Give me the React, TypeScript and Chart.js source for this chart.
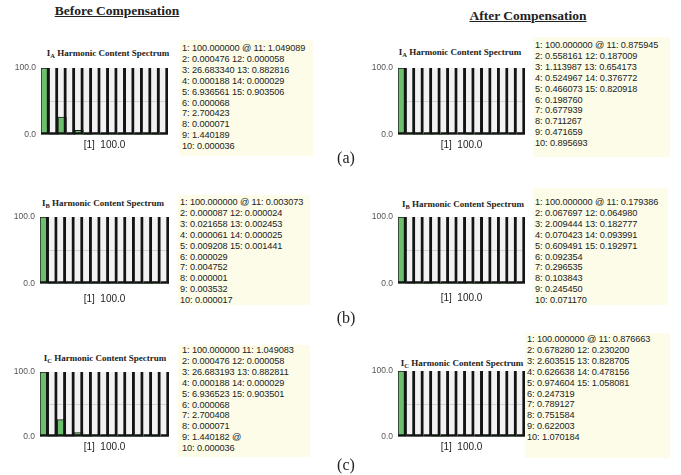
import React, { useEffect, useRef } from "react";
import { Chart, registerables } from "chart.js";

Chart.register(...registerables);
Chart.defaults.font.family = "'Liberation Sans', Arial, sans-serif";

// Harmonic orders on the x axis
const harmonicOrders = ["1", "2", "3", "4", "5", "6", "7", "8", "9", "10", "11", "12", "13", "14", "15"];

// Harmonic content (% of fundamental) per phase current
const iaBefore = [100, 0.000476, 26.68334, 0.000188, 6.936561, 0.000068, 2.700423, 0.000071, 1.440189, 0.000036, 1.049089, 0.000058, 0.882816, 0.000029, 0.903506];
const iaAfter = [100, 0.558161, 1.113987, 0.524967, 0.466073, 0.19876, 0.677939, 0.711267, 0.471659, 0.895693, 0.875945, 0.187009, 0.654173, 0.376772, 0.820918];
const ibBefore = [100, 0.000087, 0.021658, 0.000061, 0.009208, 0.000029, 0.004752, 0.000001, 0.003532, 0.000017, 0.003073, 0.000024, 0.002453, 0.000025, 0.001441];
const ibAfter = [100, 0.067697, 2.009444, 0.070423, 0.609491, 0.092354, 0.296535, 0.103843, 0.24545, 0.07117, 0.179386, 0.06498, 0.182777, 0.093991, 0.192971];
const icBefore = [100, 0.000476, 26.683193, 0.000188, 6.936523, 0.000068, 2.700408, 0.000071, 1.440182, 0.000036, 1.049083, 0.000058, 0.882811, 0.000029, 0.903501];
const icAfter = [100, 0.67828, 2.603515, 0.626638, 0.974604, 0.247319, 0.789127, 0.751584, 0.622003, 1.070184, 0.876663, 0.2302, 0.828705, 0.478156, 1.058081];

// y-axis ticks shown on the spectrum plots
const yTickValues = [0, 100];

type Layout = {
  plot: [number, number, number, number]; // left, top, width, height
  titleX: number;
  titleY: number;
  capY: number;
  box: [number, number, number, number];
  textX: number;
  textY0: number;
};

type PanelDef = {
  sub: string;
  values: number[];
  marker: number; // harmonic row carrying the "@" cursor mark
  layout: Layout;
};

const panels: PanelDef[] = [
  { sub: "A", values: iaBefore, marker: 1, layout: { plot: [41, 65, 127, 70], titleX: 108, titleY: 53, capY: 145, box: [180, 40, 133, 116], textX: 182, textY0: 48 } },
  { sub: "A", values: iaAfter, marker: 1, layout: { plot: [398, 65, 127, 70], titleX: 460, titleY: 52, capY: 145, box: [533, 37, 137, 120], textX: 535, textY0: 45 } },
  { sub: "B", values: ibBefore, marker: 1, layout: { plot: [40, 214, 129, 70], titleX: 103, titleY: 203, capY: 299, box: [178, 195, 132, 110], textX: 180, textY0: 202 } },
  { sub: "B", values: ibAfter, marker: 1, layout: { plot: [398, 214, 127, 70], titleX: 463, titleY: 204, capY: 298, box: [533, 188, 135, 117], textX: 535, textY0: 202 } },
  { sub: "C", values: icBefore, marker: 9, layout: { plot: [40, 369, 129, 68], titleX: 105, titleY: 358, capY: 447, box: [178, 345, 132, 112], textX: 182, textY0: 350 } },
  { sub: "C", values: icAfter, marker: 1, layout: { plot: [398, 368, 127, 69], titleX: 462, titleY: 363, capY: 447, box: [525, 333, 145, 125], textX: 527, textY0: 339 } },
];

const plotBackground = {
  id: "plotBackground",
  beforeDraw(chart: Chart) {
    const { ctx, chartArea } = chart;
    if (!chartArea) return;
    ctx.save();
    ctx.fillStyle = "#f2f2f2";
    ctx.fillRect(chartArea.left, chartArea.top, chartArea.right - chartArea.left, chartArea.bottom - chartArea.top);
    ctx.restore();
  },
};

function listingLines(values: number[], marker: number): string[] {
  const lines: string[] = [];
  for (let i = 1; i <= 10; i++) {
    let s = `${i}: ${values[i - 1].toFixed(6)}`;
    if (marker === i) s += " @";
    if (i <= 5) s += ` ${i + 10}: ${values[i + 9].toFixed(6)}`;
    lines.push(s);
  }
  return lines;
}

function Spectrum({ def }: { def: PanelDef }) {
  const ref = useRef<HTMLCanvasElement>(null);
  const { layout, values } = def;
  const [px, py, pw, ph] = layout.plot;
  const padTop = 7;
  const axisW = 40;
  const canvasLeft = px - axisW;
  const canvasTop = py - padTop;
  const canvasW = axisW + pw + 1;
  const canvasH = layout.capY + 6 - canvasTop;
  const xAxisH = layout.capY + 6 - (py + ph);

  useEffect(() => {
    const canvas = ref.current;
    if (!canvas) return;
    const chart = new Chart(canvas, {
      type: "bar",
      data: {
        labels: harmonicOrders,
        datasets: [
          {
            // slot frame: full-height divider on the right, base line at zero
            data: harmonicOrders.map(() => 100),
            backgroundColor: "rgba(0,0,0,0)",
            borderColor: "#141414",
            borderWidth: { left: 0, top: 0, right: 2.3, bottom: 2 },
            borderSkipped: false,
            grouped: false,
            barPercentage: 1,
            categoryPercentage: 1,
          },
          {
            data: values,
            backgroundColor: "#6cbf6c",
            borderColor: "#1c1c1c",
            borderWidth: { left: 1, top: 1, right: 1, bottom: 0 },
            borderSkipped: false,
            grouped: false,
            barPercentage: 1,
            categoryPercentage: 1,
          },
        ],
      },
      options: {
        responsive: false,
        animation: false,
        events: [],
        layout: { padding: { top: padTop, right: 1, left: 0, bottom: 0 } },
        plugins: { legend: { display: false }, tooltip: { enabled: false } },
        scales: {
          x: {
            ticks: { display: false },
            grid: { display: false },
            border: { display: false },
            title: {
              display: true,
              text: `[1]  ${values[0].toFixed(1)}`,
              color: "#222",
              font: { size: 10, lineHeight: 1.2 },
              padding: 0,
            },
            afterFit: (scale: any) => {
              scale.height = xAxisH;
            },
          },
          y: {
            min: 0,
            max: 100,
            afterBuildTicks: (scale: any) => {
              scale.ticks = [...yTickValues, 50].map((v) => ({ value: v }));
            },
            ticks: {
              padding: 5,
              color: "#555",
              font: { size: 8.5 },
              callback: (v: any) => (yTickValues.includes(Number(v)) ? Number(v).toFixed(1) : ""),
            },
            grid: {
              drawTicks: false,
              color: (ctx: any) => (ctx.tick && ctx.tick.value === 50 ? "#d2d2d2" : "rgba(0,0,0,0)"),
            },
            border: { display: false },
            afterFit: (scale: any) => {
              scale.width = axisW;
            },
          },
        },
      },
      plugins: [plotBackground],
    });
    return () => chart.destroy();
  }, []);

  const lines = listingLines(values, def.marker);
  const [bx, by, bw, bh] = layout.box;

  return (
    <>
      <div
        style={{
          position: "absolute",
          left: layout.titleX - 80,
          width: 160,
          top: layout.titleY - 7,
          textAlign: "center",
          fontFamily: "'Liberation Serif', serif",
          fontWeight: "bold",
          fontSize: 9,
          lineHeight: "14px",
          color: "#222",
          whiteSpace: "nowrap",
        }}
      >
        I<sub style={{ fontSize: 6.5, verticalAlign: "-2px" }}>{def.sub}</sub> Harmonic Content Spectrum
      </div>
      <canvas
        ref={ref}
        width={canvasW}
        height={canvasH}
        style={{ position: "absolute", left: canvasLeft, top: canvasTop, width: canvasW, height: canvasH }}
      />
      <div style={{ position: "absolute", left: bx, top: by, width: bw, height: bh, background: "#fcfce8" }} />
      {lines.map((s, i) => (
        <div
          key={i}
          style={{
            position: "absolute",
            left: layout.textX,
            top: layout.textY0 + i * 10.9 - 6,
            fontFamily: "'Liberation Sans', Arial, sans-serif",
            fontSize: 9.2,
            lineHeight: "12px",
            color: "#222",
            whiteSpace: "nowrap",
            letterSpacing: "-0.1px",
          }}
        >
          {s}
        </div>
      ))}
    </>
  );
}

const headerStyle: React.CSSProperties = {
  position: "absolute",
  width: 200,
  textAlign: "center",
  fontFamily: "'Liberation Serif', serif",
  fontWeight: "bold",
  fontSize: 13.5,
  lineHeight: "16px",
  textDecoration: "underline",
  color: "#222",
};

const captionStyle: React.CSSProperties = {
  position: "absolute",
  width: 40,
  textAlign: "center",
  fontFamily: "'Liberation Serif', serif",
  fontSize: 16,
  lineHeight: "20px",
  color: "#222",
};

export default function App() {
  return (
    <div style={{ position: "fixed", left: 0, top: 0, width: 681, height: 475, background: "#fff", overflow: "hidden" }}>
      <div style={{ ...headerStyle, left: 117 - 100, top: 3 }}>Before Compensation</div>
      <div style={{ ...headerStyle, left: 528 - 100, top: 8 }}>After Compensation</div>
      {panels.map((p, i) => (
        <Spectrum key={i} def={p} />
      ))}
      <div style={{ ...captionStyle, left: 346 - 20, top: 148 }}>(a)</div>
      <div style={{ ...captionStyle, left: 346 - 20, top: 308 }}>(b)</div>
      <div style={{ ...captionStyle, left: 346 - 20, top: 455 }}>(c)</div>
    </div>
  );
}
